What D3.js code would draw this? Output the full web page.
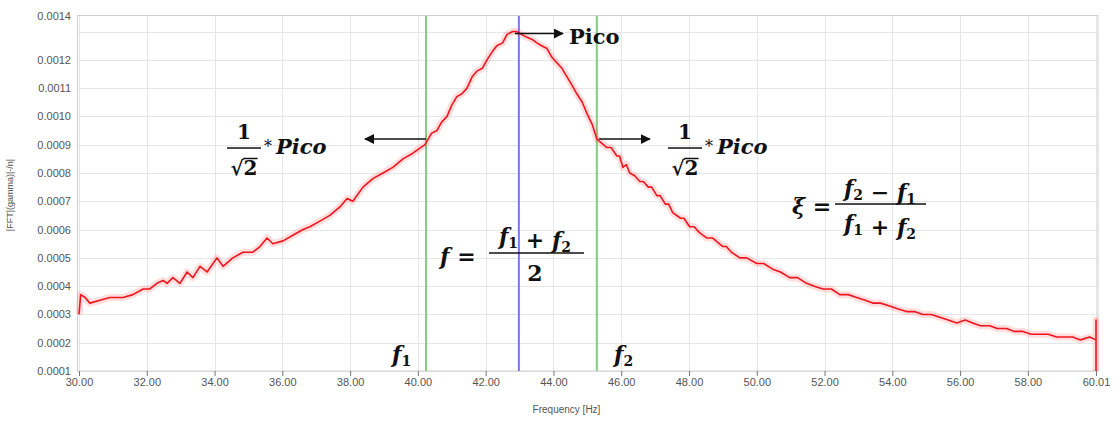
<!DOCTYPE html>
<html lang="pt-br">
  <head>
    <meta charset="utf-8">
    <title>Espectro FFT</title>
    <script src="https://d3js.org/d3.v7.min.js"></script>
    <style>
      body { margin: 0; background: #fff; }
      .eixo text { font: 11px "Liberation Sans", sans-serif; fill: #555; }
      .math { font-family: "DejaVu Serif", serif; font-weight: bold; fill: #111; }
    </style>
  </head>
  <body>
    <div id="chart"></div>
    <script type="text/javascript">
      "use strict"

      // frequencias [Hz] e amplitude |FFT|, em tres trechos
      const freqSubida = [30.00, 30.05, 30.18, 30.32, 30.62, 30.91, 31.30, 31.59, 31.89, 32.09,
        32.30, 32.48, 32.60, 32.77, 32.98, 33.19, 33.36, 33.57, 33.78, 34.07,
        34.25, 34.54, 34.84, 35.13, 35.34, 35.55, 35.72, 36.02, 36.31, 36.61,
        36.81, 37.11, 37.40, 37.70, 37.91, 38.08, 38.38, 38.67, 38.97, 39.26,
        39.56, 39.85];
      const ampSubida = [0.00030, 0.00037, 0.00036, 0.00034, 0.00035, 0.00036, 0.00036, 0.00037, 0.00039, 0.00039,
        0.00041, 0.00042, 0.00041, 0.00043, 0.00041, 0.00045, 0.00043, 0.00047, 0.00045, 0.00050,
        0.00047, 0.00050, 0.00052, 0.00052, 0.00054, 0.00057, 0.00055, 0.00056, 0.00058, 0.00060,
        0.00061, 0.00063, 0.00065, 0.00068, 0.00071, 0.00070, 0.00075, 0.00078, 0.00080, 0.00082,
        0.00085, 0.00087];

      const freqPico = [40.21, 40.40, 40.56, 40.70, 40.86, 41.00, 41.15, 41.30, 41.45, 41.60,
        41.74, 41.90, 42.04, 42.20, 42.33, 42.50, 42.63, 42.80, 42.92, 43.05,
        43.22, 43.40, 43.51, 43.65, 43.81, 43.95, 44.10, 44.25, 44.40, 44.55,
        44.69, 44.85, 44.99, 45.15, 45.28];
      const ampPico = [0.00090, 0.00094, 0.00095, 0.00098, 0.00100, 0.00104, 0.00107, 0.00108, 0.00110, 0.00114,
        0.00116, 0.00117, 0.00120, 0.00123, 0.00125, 0.00126, 0.00129, 0.00130, 0.00130, 0.00129,
        0.00128, 0.00127, 0.00126, 0.00125, 0.00124, 0.00121, 0.00119, 0.00117, 0.00114, 0.00111,
        0.00108, 0.00105, 0.00101, 0.00097, 0.00092];

      const freqDescida = [45.58, 45.70, 45.87, 45.95, 46.05, 46.15, 46.25, 46.40, 46.55, 46.65,
        46.80, 46.90, 47.05, 47.15, 47.30, 47.40, 47.52, 47.75, 47.85, 48.02,
        48.15, 48.30, 48.53, 48.70, 49.00, 49.10, 49.25, 49.50, 49.70, 50.00,
        50.20, 50.47, 50.70, 50.97, 51.20, 51.47, 51.70, 51.95, 52.20, 52.45,
        52.70, 52.95, 53.20, 53.42, 53.65, 53.92, 54.15, 54.42, 54.65, 54.90,
        55.15, 55.40, 55.65, 55.90, 56.15, 56.37, 56.60, 56.87, 57.10, 57.37,
        57.60, 57.85, 58.10, 58.35, 58.60, 58.85, 59.10, 59.32, 59.55, 59.82,
        60.01, 60.01, 60.01];
      const ampDescida = [0.00089, 0.00089, 0.00086, 0.00086, 0.00082, 0.00083, 0.00080, 0.00079, 0.00077, 0.00077,
        0.00075, 0.00075, 0.00072, 0.00072, 0.00069, 0.00069, 0.00066, 0.00064, 0.00064, 0.00061,
        0.00061, 0.00059, 0.00057, 0.00057, 0.00054, 0.00054, 0.00052, 0.00050, 0.00050, 0.00048,
        0.00048, 0.00046, 0.00045, 0.00043, 0.00043, 0.00041, 0.00040, 0.00039, 0.00039, 0.00037,
        0.00037, 0.00036, 0.00035, 0.00034, 0.00034, 0.00033, 0.00032, 0.00031, 0.00031, 0.00030,
        0.00030, 0.00029, 0.00028, 0.00027, 0.00028, 0.00027, 0.00026, 0.00026, 0.00025, 0.00025,
        0.00024, 0.00024, 0.00023, 0.00023, 0.00023, 0.00022, 0.00022, 0.00022, 0.00021, 0.00022,
        0.00021, 0.00028, 0.00010];

      const ticksX = [30, 32, 34, 36, 38, 40, 42, 44, 46, 48, 50, 52, 54, 56, 58, 60.01];
      const gradeY = [0.0001, 0.0002, 0.0003, 0.0004, 0.0005, 0.0006, 0.0007, 0.0008, 0.0009, 0.0010, 0.0011, 0.0012, 0.0013];
      const ticksY = [0.0001, 0.0002, 0.0003, 0.0004, 0.0005, 0.0006, 0.0007, 0.0008, 0.0009, 0.0010, 0.0011, 0.0012, 0.001355];
      const dominioY = [0.0001, 0.001355];

      // f1, pico, f2
      const f1 = 40.24, fPico = 42.98, f2 = 45.28;
      const pico = 0.00130, meiaPotencia = 0.00092;

      const larguraSVG = 1120, alturaSVG = 422;
      const margin = {top: 16, right: 22, bottom: 51, left: 79};

      const svg = d3.select("#chart").append("svg")
        .attr("width", larguraSVG).attr("height", alturaSVG);

      const x = d3.scaleLinear().domain([30, 60.01]).range([margin.left, larguraSVG - margin.right - 2]);
      const y = d3.scaleLinear().domain(dominioY).range([alturaSVG - margin.bottom, margin.top]);

      // grade
      svg.append("g").selectAll("line").data(gradeY).enter().append("line")
        .attr("x1", margin.left - 1).attr("x2", larguraSVG - margin.right)
        .attr("y1", d => Math.round(y(d)) + 0.5).attr("y2", d => Math.round(y(d)) + 0.5)
        .attr("stroke", "#e6e6e6");
      svg.append("g").selectAll("line").data(ticksX).enter().append("line")
        .attr("x1", d => Math.round(x(d)) + 0.5).attr("x2", d => Math.round(x(d)) + 0.5)
        .attr("y1", margin.top).attr("y2", alturaSVG - margin.bottom)
        .attr("stroke", "#e6e6e6");

      // moldura
      svg.append("rect")
        .attr("x", margin.left - 1.5).attr("y", margin.top - 0.5)
        .attr("width", larguraSVG - margin.right - margin.left + 1.5)
        .attr("height", alturaSVG - margin.bottom - margin.top + 0.5)
        .attr("fill", "none").attr("stroke", "#cfcfcf");

      // eixos
      const eixoX = svg.append("g").attr("class", "eixo")
        .attr("transform", "translate(0," + (alturaSVG - margin.bottom) + ")")
        .call(d3.axisBottom(x).tickValues(ticksX).tickFormat(d3.format(".2f")).tickSize(5).tickPadding(2));
      eixoX.select(".domain").remove();
      eixoX.selectAll(".tick line").attr("stroke", "#777");

      const eixoY = svg.append("g").attr("class", "eixo")
        .attr("transform", "translate(" + (margin.left - 8) + ",0)")
        .call(d3.axisLeft(y).tickValues(ticksY).tickFormat(d3.format(".4f")).tickSize(0).tickPadding(0));
      eixoY.select(".domain").remove();

      svg.append("text")
        .attr("x", (margin.left + larguraSVG - margin.right) / 2 - 22).attr("y", 413)
        .attr("text-anchor", "middle")
        .style("font", "10px 'Liberation Sans', sans-serif").style("fill", "#555")
        .text("Frequency [Hz]");

      svg.append("text")
        .attr("transform", "translate(13,195) rotate(-90)")
        .attr("text-anchor", "middle")
        .style("font", "9px 'Liberation Sans', sans-serif").style("fill", "#555")
        .text("|FFT|(gamma)|-/n|");

      // linhas verticais f1, pico, f2
      const marcas = [{f: f1, cor: "#7fcf7f"}, {f: fPico, cor: "#7777ee"}, {f: f2, cor: "#7fcf7f"}];
      svg.append("g").selectAll("line").data(marcas).enter().append("line")
        .attr("x1", d => x(d.f)).attr("x2", d => x(d.f))
        .attr("y1", margin.top).attr("y2", alturaSVG - margin.bottom)
        .attr("stroke", d => d.cor).attr("stroke-width", 2);

      // curva
      const frequencias = freqSubida.concat(freqPico, freqDescida);
      const amplitudes = ampSubida.concat(ampPico, ampDescida);
      const pontos = frequencias.map((f, i) => [f, amplitudes[i]]);
      const linha = d3.line().x(d => x(d[0])).y(d => y(d[1]));
      svg.append("path").datum(pontos)
        .attr("d", linha).attr("fill", "none")
        .attr("stroke", "rgba(255,60,60,0.17)").attr("stroke-width", 7).attr("stroke-linejoin", "round");
      svg.append("path").datum(pontos)
        .attr("d", linha).attr("fill", "none")
        .attr("stroke", "#f0141e").attr("stroke-width", 1.6).attr("stroke-linejoin", "round");

      // setas
      const defs = svg.append("defs");
      defs.append("marker").attr("id", "seta")
        .attr("viewBox", "0 0 10 10").attr("refX", 9).attr("refY", 5)
        .attr("markerWidth", 10).attr("markerHeight", 10).attr("markerUnits", "userSpaceOnUse")
        .attr("orient", "auto")
        .append("path").attr("d", "M0,0 L10,5 L0,10 z").attr("fill", "#111");

      function seta(x1, y1, x2, y2) {
        svg.append("line")
          .attr("x1", x1).attr("y1", y1).attr("x2", x2).attr("y2", y2)
          .attr("stroke", "#111").attr("stroke-width", 1.6)
          .attr("marker-end", "url(#seta)");
      }
      seta(x(fPico) - 4, y(pico) + 2, x(fPico) + 44, y(pico) + 2);
      seta(x(f1), y(meiaPotencia), x(f1) - 61, y(meiaPotencia));
      seta(x(f2) + 2, y(meiaPotencia), x(f2) + 53, y(meiaPotencia));

      svg.append("text").attr("class", "math")
        .attr("x", x(fPico) + 50).attr("y", 44)
        .style("font-size", "21px").text("Pico");

      // 1/sqrt(2) * Pico
      function fracaoPico(cx) {
        const g = svg.append("g").attr("class", "math");
        g.append("text").attr("x", cx).attr("y", 139).attr("text-anchor", "middle")
          .style("font-size", "20px").text("1");
        g.append("line").attr("x1", cx - 17).attr("x2", cx + 17).attr("y1", 148).attr("y2", 148)
          .attr("stroke", "#111").attr("stroke-width", 1.6);
        const raiz = g.append("text").attr("x", cx).attr("y", 175).attr("text-anchor", "middle")
          .style("font-size", "20px").text("√2");
        const caixa = raiz.node().getBBox();
        g.append("line")
          .attr("x1", caixa.x + caixa.width * 0.47).attr("x2", caixa.x + caixa.width)
          .attr("y1", caixa.y + 2.5).attr("y2", caixa.y + 2.5)
          .attr("stroke", "#111").attr("stroke-width", 1.5);
        g.append("text").attr("x", cx + 20).attr("y", 152)
          .style("font-size", "16px").style("font-weight", "normal").text("*");
        g.append("text").attr("x", cx + 32).attr("y", 154)
          .style("font-size", "21px").style("font-style", "italic").text("Pico");
      }
      fracaoPico(244);
      fracaoPico(685);

      // expressoes com subscrito
      function termo(g, px, py, partes, anchor) {
        const t = g.append("text").attr("x", px).attr("y", py)
          .attr("text-anchor", anchor || "middle").style("font-size", "22px");
        partes.forEach(p => {
          if (p.sub) {
            t.append("tspan").attr("dy", 4).style("font-size", "14px").text(p.sub);
            t.append("tspan").attr("dy", -4).text("");
          } else {
            t.append("tspan").style("font-style", p.it ? "italic" : "normal").text(p.t);
          }
        });
        return t;
      }

      const gXi = svg.append("g").attr("class", "math");
      termo(gXi, 792, 214, [{t: "ξ", it: true}, {t: " ="}], "start");
      termo(gXi, 880, 196, [{t: "f", it: true}, {sub: "2"}, {t: " − "}, {t: "f", it: true}, {sub: "1"}]);
      gXi.append("line").attr("x1", 835).attr("x2", 926).attr("y1", 204).attr("y2", 204)
        .attr("stroke", "#111").attr("stroke-width", 1.6);
      termo(gXi, 880, 231, [{t: "f", it: true}, {sub: "1"}, {t: " + "}, {t: "f", it: true}, {sub: "2"}]);

      const gF = svg.append("g").attr("class", "math");
      termo(gF, 440, 264, [{t: "f", it: true}, {t: " ="}], "start");
      termo(gF, 535, 244, [{t: "f", it: true}, {sub: "1"}, {t: " + "}, {t: "f", it: true}, {sub: "2"}]);
      gF.append("line").attr("x1", 489).attr("x2", 584).attr("y1", 253).attr("y2", 253)
        .attr("stroke", "#111").attr("stroke-width", 1.6);
      termo(gF, 535, 281, [{t: "2"}]);

      const gRot = svg.append("g").attr("class", "math");
      termo(gRot, 392, 362, [{t: "f", it: true}, {sub: "1"}], "start");
      termo(gRot, 614, 362, [{t: "f", it: true}, {sub: "2"}], "start");
    </script>
  </body>
</html>
